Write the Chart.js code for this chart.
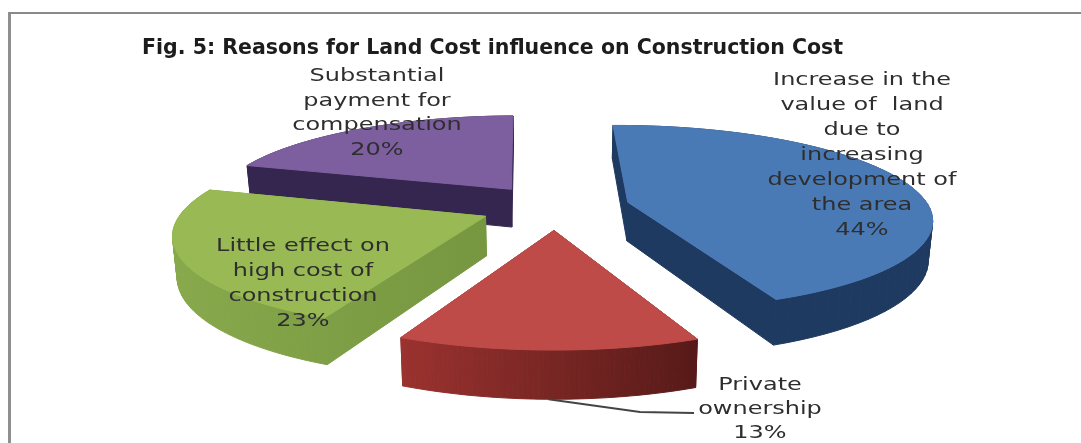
<!DOCTYPE html>
<html>
<head>
<meta charset="utf-8">
<title>Fig. 5</title>
<script src="https://cdn.jsdelivr.net/npm/chart.js@4"></script>
<style>
    html, body { margin: 0; background: #fff; }
    #wrap { position: relative; width: 1081px; height: 443px; overflow: hidden; }
    #border { position: absolute; left: 8px; top: 12px; width: 1200px; height: 600px; border-left: 3px solid #8f8f8f; border-top: 2px solid #8a8a8a; }
    canvas { position: absolute; left: 0; top: 0; }
</style>
</head>
<body>
<div id="wrap">
    <div id="border"></div>
    <canvas id="landCostChart" width="1081" height="443"></canvas>
</div>
<script>
const categories = [
    'Increase in the value of land due to increasing development of the area',
    'Private ownership',
    'Little effect on high cost of construction',
    'Substantial payment for compensation'
];
const shares = [44, 13, 23, 20];
const explode = [300, 300, 300, 300];
const topColors = ['#4a7ab6', '#be4b48', '#98b954', '#7d5fa0'];
const sideColors = [['#1f3a60', '#1f3a60'], ['#9a322f', '#571a18'], ['#88a84c', '#769640'], ['#35264f', '#35264f']];

// wrapped label lines, the centre x and the y of each line
const labelLines = [
    ['Increase in the', 'value of  land', 'due to', 'increasing', 'development of', 'the area', '44%'],
    ['Private', 'ownership', '13%'],
    ['Little effect on', 'high cost of', 'construction', '23%'],
    ['Substantial', 'payment for', 'compensation', '20%']
];
const labelX = [862, 760, 303, 377];
const labelY = [81, 386, 247, 77];
const labelStep = [24.9, 24, 25, 24.5];

const pieRadius = 301;
const tilt = 0.302;
const perspective = 0.166;
const sliceDepth = 39;
const drawOrder = [3, 0, 2, 1];

// maps a point of an arc onto the tilted pie plane, drop pushes it down to the base
function projectPoint(arc, angle, radius, drop) {
    const mid = (arc.startAngle + arc.endAngle) / 2;
    const shift = arc.options.offset / 4;
    const px = shift * Math.cos(mid) + radius * Math.cos(angle);
    const py = shift * Math.sin(mid) + radius * Math.sin(angle);
    const w = 1 / (1 - perspective * py / pieRadius);
    const narrow = drop ? 0.988 : 1;
    return {
        x: arc.x + px * w * narrow,
        y: arc.y + py * tilt * w + drop * w
    };
}

function sliceOutline(arc, drop) {
    const pts = [projectPoint(arc, arc.startAngle, 0, drop)];
    const steps = 60;
    for (let i = 0; i <= steps; i++) {
        const a = arc.startAngle + (arc.endAngle - arc.startAngle) * i / steps;
        pts.push(projectPoint(arc, a, pieRadius, drop));
    }
    return pts;
}

function drawSlice(ctx, arc, index) {
    const upper = sliceOutline(arc, 0);
    const lower = sliceOutline(arc, sliceDepth);
    const xs = lower.map(p => p.x);
    const side = ctx.createLinearGradient(Math.min(...xs), 0, Math.max(...xs), 0);
    side.addColorStop(0, sideColors[index][0]);
    side.addColorStop(1, sideColors[index][1]);
    ctx.fillStyle = side;
    ctx.strokeStyle = side;
    ctx.lineWidth = 1;
    for (let i = 0; i < upper.length; i++) {
        const j = (i + 1) % upper.length;
        ctx.beginPath();
        ctx.moveTo(upper[i].x, upper[i].y);
        ctx.lineTo(upper[j].x, upper[j].y);
        ctx.lineTo(lower[j].x, lower[j].y);
        ctx.lineTo(lower[i].x, lower[i].y);
        ctx.closePath();
        ctx.fill();
        ctx.stroke();
    }
    ctx.beginPath();
    upper.forEach(p => ctx.lineTo(p.x, p.y));
    ctx.closePath();
    ctx.fillStyle = arc.options.backgroundColor;
    ctx.strokeStyle = arc.options.backgroundColor;
    ctx.fill();
    ctx.stroke();
}

const pie3d = {
    id: 'pie3d',
    beforeDatasetDraw(chart, args) {
        const ctx = chart.ctx;
        const arcs = args.meta.data;
        ctx.save();
        drawOrder.forEach(i => drawSlice(ctx, arcs[i], i));
        ctx.restore();
        return false;
    },
    afterDatasetsDraw(chart) {
        const ctx = chart.ctx;
        const arcs = chart.getDatasetMeta(0).data;
        ctx.save();

        // leader line from the front of the private ownership slice to its label
        const foot = projectPoint(arcs[1], (arcs[1].startAngle + arcs[1].endAngle) / 2, pieRadius, sliceDepth);
        ctx.strokeStyle = '#444';
        ctx.lineWidth = 1.8;
        ctx.beginPath();
        ctx.moveTo(foot.x, foot.y);
        ctx.lineTo(640, 412);
        ctx.lineTo(694, 413);
        ctx.stroke();

        ctx.font = '17px "DejaVu Sans"';
        ctx.fillStyle = '#2e2e2e';
        ctx.textAlign = 'center';
        ctx.textBaseline = 'middle';
        labelLines.forEach((lines, i) => {
            lines.forEach((line, n) => {
                ctx.save();
                ctx.translate(labelX[i], labelY[i] + n * labelStep[i]);
                ctx.scale(1.41, 1);
                ctx.fillText(line, 0, 0);
                ctx.restore();
            });
        });
        ctx.restore();
    }
};

new Chart(document.getElementById('landCostChart'), {
    type: 'pie',
    data: {
        labels: categories,
        datasets: [{
            data: shares,
            offset: explode,
            backgroundColor: topColors,
            borderWidth: 0
        }]
    },
    options: {
        responsive: false,
        animation: false,
        rotation: -1,
        layout: { padding: { left: 142, right: 113, top: 0, bottom: 94 } },
        plugins: {
            legend: { display: false },
            tooltip: { enabled: false },
            title: {
                display: true,
                align: 'start',
                text: 'Fig. 5: Reasons for Land Cost influence on Construction Cost',
                color: '#1c1c1c',
                font: { family: '"DejaVu Sans"', size: 20.5, weight: 'bold' },
                padding: { top: 36, bottom: 4 }
            }
        }
    },
    plugins: [pie3d]
});
</script>
</body>
</html>
